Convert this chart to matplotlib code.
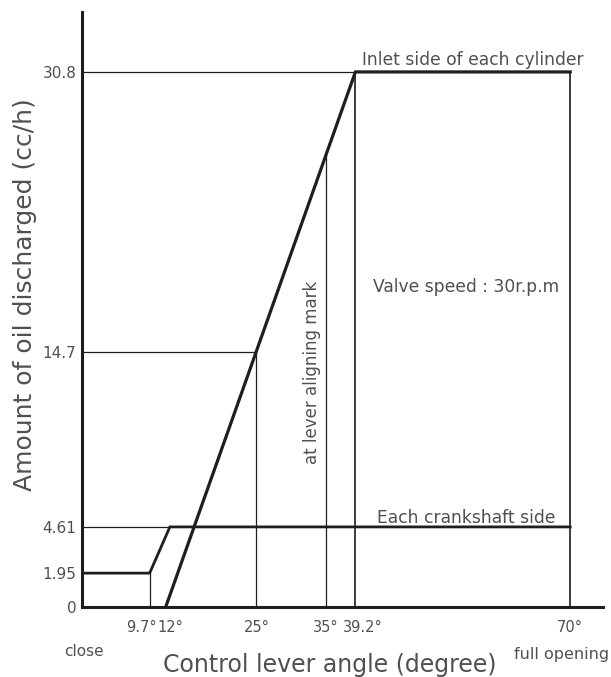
import matplotlib
matplotlib.use("Agg")
import matplotlib.pyplot as plt
import matplotlib.transforms as mtransforms
import numpy as np

# ---- data ----
x_tick_values = [9.7, 12, 25, 35, 39.2, 70]
x_tick_labels = ["9.7°", "12°", "25°", "35°", "39.2°", "70°"]
y_tick_values = [0, 1.95, 4.61, 14.7, 30.8]
y_tick_labels = ["0", "1.95", "4.61", "14.7", "30.8"]

inlet_x = [12, 39.2, 70]
inlet_y = [0, 30.8, 30.8]

crank_x = [0, 9.7, 12.6, 70]
crank_y = [1.95, 1.95, 4.61, 4.61]

aligning_mark = 35

TXT = "#505050"
LINE = "#1e1e1e"

fig = plt.figure(figsize=(6.11, 6.77), dpi=100)
ax = fig.add_axes([82/611, 70/677, 521/611, 595/677])
ax.set_xlim(0, 74.7)
ax.set_ylim(0, 34.25)

def inlet_at(x):
    return np.interp(x, inlet_x, inlet_y)

# thin guide lines
thin = dict(color=LINE, lw=0.9)
ax.plot([0, inlet_x[1]], [inlet_y[1], inlet_y[1]], **thin)
ax.plot([0, 25], [14.7, 14.7], **thin)
ax.plot([0, crank_x[2]], [crank_y[2], crank_y[2]], **thin)
ax.plot([crank_x[1], crank_x[1]], [0, crank_y[1]], **thin)
ax.plot([25, 25], [0, 14.7], **thin)
ax.plot([aligning_mark, aligning_mark], [0, inlet_at(aligning_mark)], **thin)
ax.plot([inlet_x[1], inlet_x[1]], [0, inlet_y[1]], color=LINE, lw=1.2)
ax.plot([inlet_x[2], inlet_x[2]], [0, inlet_y[2]], color=LINE, lw=1.2)

# main curves
ax.plot(inlet_x, inlet_y, color=LINE, lw=2.3, solid_joinstyle="miter")
ax.plot(crank_x, crank_y, color=LINE, lw=2.0, solid_joinstyle="miter")

# spines
for s in ["top", "right"]:
    ax.spines[s].set_visible(False)
for s in ["left", "bottom"]:
    ax.spines[s].set_linewidth(2.2)
    ax.spines[s].set_color(LINE)

ax.set_yticks(y_tick_values)
ax.set_yticklabels(y_tick_labels)
ax.set_xticks(x_tick_values)
ax.set_xticklabels(x_tick_labels)
ax.tick_params(axis="y", length=0, labelsize=11, labelcolor=TXT, pad=4)
ax.tick_params(axis="x", length=0, labelsize=10.5, labelcolor=TXT, pad=9)

labels = ax.get_xticklabels()
def shift(lbl, px):
    lbl.set_transform(lbl.get_transform() + mtransforms.ScaledTranslation(px/100, 0, fig.dpi_scale_trans))
labels[0].set_ha("right"); shift(labels[0], 7)
labels[1].set_ha("left"); shift(labels[1], -8)
shift(labels[4], 7)

# annotations
ax.text(40.2, 31.5, "Inlet side of each cylinder", fontsize=12.3, color=TXT, ha="left", va="center")
ax.text(41.7, 18.4, "Valve speed : 30r.p.m", fontsize=12.3, color=TXT, ha="left", va="center")
ax.text(42.3, 5.1, "Each crankshaft side", fontsize=12.3, color=TXT, ha="left", va="center")
ax.text(33.0, 13.5, "at lever aligning mark", fontsize=12, color=TXT, rotation=90, ha="center", va="center")

# axis labels and end notes
fig.text(330/611, 1 - 665/677, "Control lever angle (degree)", fontsize=17, color=TXT, ha="center", va="center")
fig.text(25/611, 1 - 295/677, "Amount of oil discharged (cc/h)", fontsize=18, color=TXT, ha="center", va="center", rotation=90)
fig.text(84/611, 1 - 651/677, "close", fontsize=11, color=TXT, ha="center", va="center")
fig.text(609/611, 1 - 655/677, "full opening", fontsize=11.5, color=TXT, ha="right", va="center")

fig.savefig("out.png", dpi=100)
